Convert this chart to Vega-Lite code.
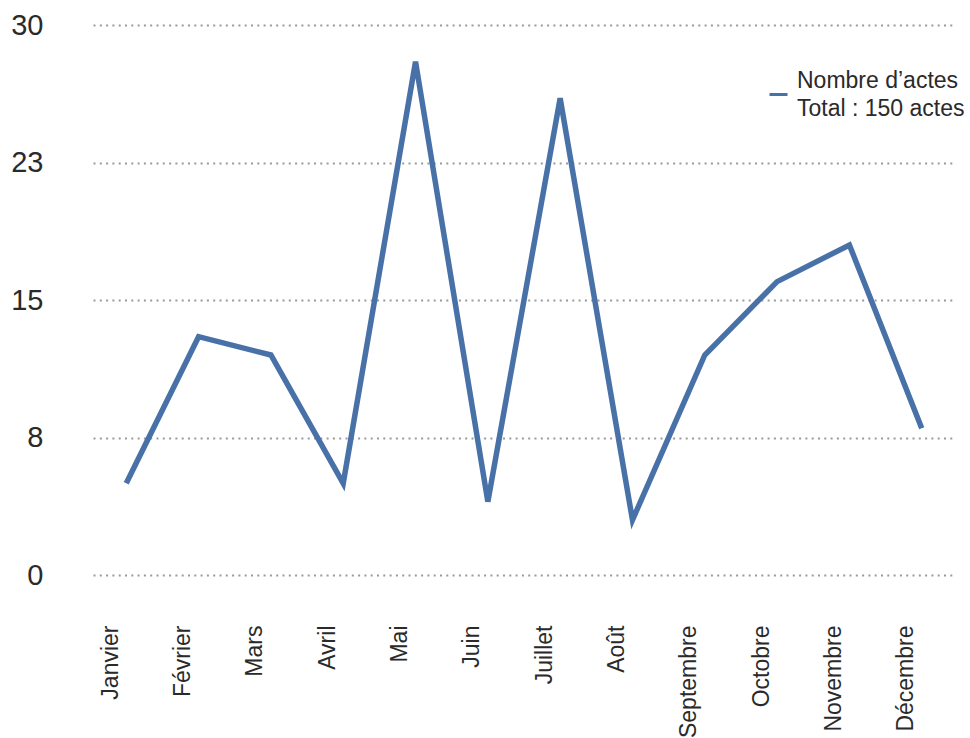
{
  "$schema": "https://vega.github.io/schema/vega-lite/v6.json",
  "width": 862,
  "height": 550,
  "autosize": {"type": "none"},
  "padding": {"left": 93, "top": 25, "right": 15, "bottom": 163},
  "background": "#ffffff",
  "config": {
    "font": "Liberation Sans",
    "view": {"stroke": null}
  },
  "data": {
    "values": [
      {"mois": "Janvier", "actes": 5, "serie": "Nombre d’actes"},
      {"mois": "Février", "actes": 13, "serie": "Nombre d’actes"},
      {"mois": "Mars", "actes": 12, "serie": "Nombre d’actes"},
      {"mois": "Avril", "actes": 5, "serie": "Nombre d’actes"},
      {"mois": "Mai", "actes": 28, "serie": "Nombre d’actes"},
      {"mois": "Juin", "actes": 4, "serie": "Nombre d’actes"},
      {"mois": "Juillet", "actes": 26, "serie": "Nombre d’actes"},
      {"mois": "Août", "actes": 3, "serie": "Nombre d’actes"},
      {"mois": "Septembre", "actes": 12, "serie": "Nombre d’actes"},
      {"mois": "Octobre", "actes": 16, "serie": "Nombre d’actes"},
      {"mois": "Novembre", "actes": 18, "serie": "Nombre d’actes"},
      {"mois": "Décembre", "actes": 8, "serie": "Nombre d’actes"}
    ]
  },
  "mark": {"type": "line", "strokeWidth": 5.5, "strokeJoin": "miter", "strokeCap": "butt"},
  "encoding": {
    "x": {
      "field": "mois",
      "type": "nominal",
      "sort": null,
      "scale": {"type": "point", "padding": 0.46},
      "axis": {
        "title": null,
        "domain": false,
        "ticks": false,
        "grid": false,
        "labelAngle": -90,
        "labelAlign": "right",
        "labelBaseline": "middle",
        "labelPadding": 50,
        "labelOffset": -16,
        "labelFontSize": 23,
        "labelColor": "#2a2a2a",
        "labelLimit": 300
      }
    },
    "y": {
      "field": "actes",
      "type": "quantitative",
      "scale": {"domain": [0, 30], "nice": false, "zero": true},
      "axis": {
        "title": null,
        "domain": false,
        "ticks": false,
        "values": [0, 7.5, 15, 22.5, 30],
        "format": ".0f",
        "labelPadding": 50,
        "labelFontSize": 29,
        "labelColor": "#2a2a2a",
        "labelBaseline": "middle",
        "grid": true,
        "gridColor": "#9a9a9a",
        "gridWidth": 2.2,
        "gridDash": [2, 4.3]
      }
    },
    "color": {
      "field": "serie",
      "type": "nominal",
      "scale": {"range": ["#4871a8"]},
      "legend": {
        "title": null,
        "orient": "none",
        "legendX": 674,
        "legendY": 58,
        "symbolType": "stroke",
        "symbolSize": 324,
        "symbolStrokeWidth": 3,
        "labelFontSize": 23,
        "labelColor": "#2a2a2a",
        "labelOffset": 7,
        "labelLimit": 300,
        "labelExpr": "['Nombre d’actes', 'Total : 150 actes']",
        "encode": {
          "symbols": {"update": {"stroke": {"value": "#3b86c6"}}},
          "labels": {"update": {"lineHeight": {"value": 28}, "dy": {"value": -14}}}
        }
      }
    }
  }
}
